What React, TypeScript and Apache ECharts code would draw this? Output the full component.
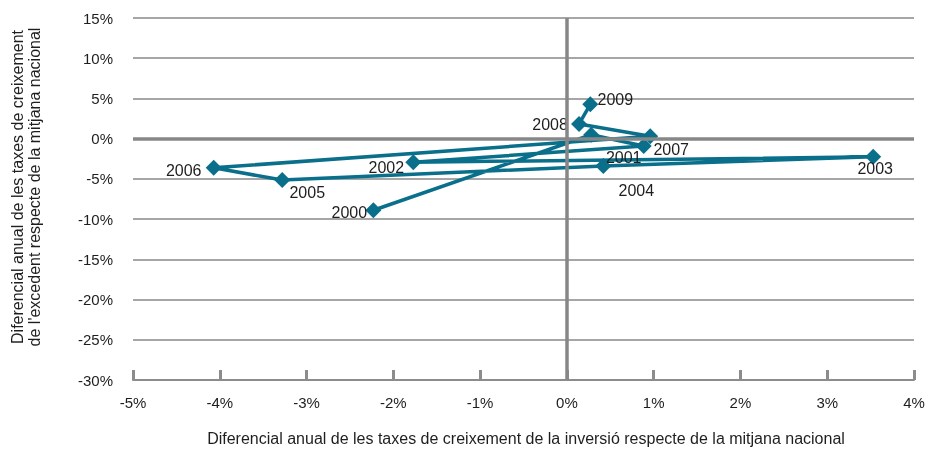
import React, { useEffect, useRef } from "react";
import * as echarts from "echarts";

// Point labels (one marker in the reference carries no label)
const years = ["2000", "", "2001", "2002", "2003", "2004", "2005", "2006", "2007", "2008", "2009"];
// Differential of investment growth vs national average (%)
const investDiff = [-2.23, 0.28, 0.885, -1.77, 3.53, 0.42, -3.28, -4.07, 0.96, 0.14, 0.27];
// Differential of surplus growth vs national average (%)
const surplusDiff = [-8.9, 0.49, -0.91, -2.93, -2.26, -3.39, -5.15, -3.62, 0.3, 1.83, 4.27];

const xTicks = { min: -5, max: 4, step: 1 };
const yTicks = { min: -30, max: 15, step: 5 };

const xTitle = "Diferencial anual de les taxes de creixement de la inversió respecte de la mitjana nacional";
const yTitle = "Diferencial anual de les taxes de creixement\nde l'excedent respecte de la mitjana nacional";

// label placement (pixel offsets from the marker), layout only
const labelOffsets: [number, number][] = [
  [-24, 2], [0, 0], [-20, 12], [-27, 5], [2, 12], [33, 25], [25, 12], [-30, 3], [21, 13], [-29, 1], [25, -5],
];

const FONT = '"Liberation Sans", Arial, sans-serif';
const LINE = "#0a6f8b";

export default function App() {
  const ref = useRef<HTMLDivElement>(null);
  useEffect(() => {
    if (!ref.current) return;
    const chart = echarts.init(ref.current, undefined, { renderer: "svg" });
    const data = investDiff.map((x, i) => ({
      value: [x, surplusDiff[i]],
      label: { offset: labelOffsets[i] },
    }));
    chart.setOption({
      animation: false,
      textStyle: { fontFamily: FONT },
      grid: { left: 133, right: 17, top: 18, bottom: 73, containLabel: false },
      xAxis: {
        type: "value",
        min: xTicks.min,
        max: xTicks.max,
        interval: xTicks.step,
        axisLine: { show: true, onZero: false, lineStyle: { color: "#8c8c8c", width: 2 } },
        axisTick: { show: true, inside: true, length: 10, lineStyle: { color: "#8c8c8c", width: 3 } },
        splitLine: { show: false },
        axisLabel: { margin: 15, fontSize: 15, color: "#1e1e1e", fontFamily: FONT, formatter: (v: number) => v + "%" },
      },
      yAxis: {
        type: "value",
        min: yTicks.min,
        max: yTicks.max,
        interval: yTicks.step,
        axisLine: { show: false },
        axisTick: { show: false },
        splitLine: { show: true, lineStyle: { color: "#a6a6a6", width: 2 } },
        axisLabel: { margin: 20, fontSize: 15, color: "#1e1e1e", fontFamily: FONT, formatter: (v: number) => v + "%" },
      },
      graphic: [
        {
          type: "text",
          x: 26,
          y: 187,
          rotation: Math.PI / 2,
          style: {
            text: yTitle,
            align: "center",
            verticalAlign: "middle",
            fontSize: 16,
            fontFamily: FONT,
            lineHeight: 17,
            fill: "#1e1e1e",
          },
        },
        {
          type: "text",
          x: 526,
          y: 438,
          style: {
            text: xTitle,
            align: "center",
            verticalAlign: "middle",
            fontSize: 16,
            fontFamily: FONT,
            fill: "#1e1e1e",
          },
        },
      ],
      series: [
        {
          type: "scatter",
          data: [],
          z: 1,
          markLine: {
            silent: true,
            symbol: ["none", "none"],
            label: { show: false },
            lineStyle: { color: "#878787", width: 3.5, type: "solid" },
            data: [{ xAxis: 0 }, { yAxis: 0 }],
          },
        },
        {
          type: "line",
          z: 3,
          data,
          symbol: "diamond",
          symbolSize: 16,
          lineStyle: { color: LINE, width: 3.5 },
          itemStyle: { color: LINE },
          label: {
            show: true,
            position: "inside",
            align: "center",
            verticalAlign: "middle",
            fontSize: 16,
            fontFamily: FONT,
            color: "#1e1e1e",
            formatter: (p: any) => years[p.dataIndex],
          },
        },
      ],
    });
    return () => chart.dispose();
  }, []);
  return <div ref={ref} style={{ position: "fixed", left: 0, top: 0, width: 931, height: 453 }} />;
}
